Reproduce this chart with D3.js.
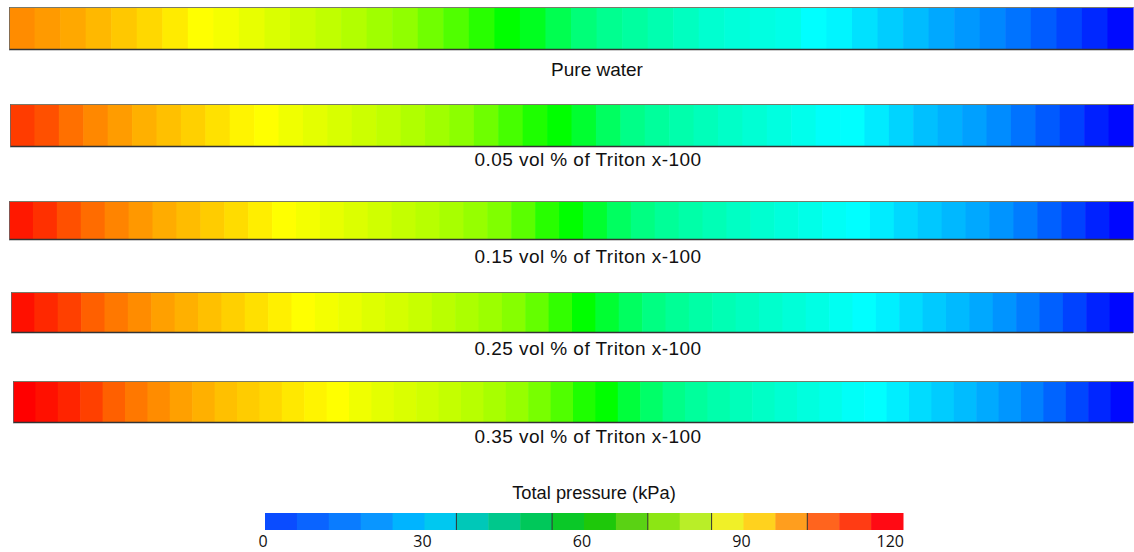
<!DOCTYPE html>
<html>
<head>
<meta charset="utf-8">
<title>Total pressure along the pipe</title>
<script src="https://d3js.org/d3.v7.min.js"></script>
<style>
  body { margin: 0; background: #fff; }
  .case-label { font-family: "Liberation Sans", Arial, sans-serif; font-size: 19px; fill: #111; }
  .case-label.triton { letter-spacing: 0.45px; }
  .legend-title { font-family: "Liberation Sans", Arial, sans-serif; font-size: 18.3px; fill: #111; }
  .legend-tick { font-family: "Open Sans", sans-serif; font-size: 16px; fill: #111; }
</style>
</head>
<body>
<svg id="chart" width="1134" height="552"></svg>
<script>
// case names, one bar each
var cases = ["Pure water", "0.05 vol % of Triton x-100", "0.15 vol % of Triton x-100",
             "0.25 vol % of Triton x-100", "0.35 vol % of Triton x-100"];

// total pressure (kPa) of every cell, left to right
var pureWater = [103.5, 101.9, 100.2, 98.4, 96.5, 94.6, 92.4, 90.0, 88.8, 87.3, 85.6, 84.1, 82.6, 80.9, 78.8,
  76.9, 73.2, 69.4, 64.7, 60.0, 56.2, 50.6, 45.9, 43.1, 41.2, 39.3, 37.4, 35.5, 34.4, 33.5, 32.7, 30.0,
  28.8, 26.5, 24.1, 22.1, 19.8, 17.9, 15.9, 13.5, 10.8, 8.0, 4.7, 1.2];
var triton005 = [113.0, 110.6, 106.8, 104.0, 101.6, 99.3, 97.4, 95.5, 93.5, 91.3, 90.0, 88.2, 86.8, 85.4, 84.0,
  82.6, 80.7, 78.8, 76.5, 72.9, 68.2, 63.5, 60.0, 54.4, 48.7, 44.0, 41.6, 39.8, 38.1, 36.5, 35.1, 33.6,
  32.2, 30.6, 30.0, 27.6, 24.9, 22.6, 20.7, 18.8, 16.5, 13.5, 10.6, 7.5, 3.8, 0.9];
var triton015 = [117.2, 114.4, 110.6, 107.3, 104.5, 102.1, 99.8, 97.9, 96.0, 94.1, 92.0, 90.0, 88.7, 87.3, 85.9,
  84.5, 83.1, 81.6, 79.8, 77.6, 75.1, 70.6, 64.7, 60.0, 54.4, 48.7, 44.7, 42.1, 40.2, 38.6, 36.9, 35.5,
  34.1, 32.7, 31.1, 30.0, 27.8, 25.4, 23.5, 21.6, 19.8, 17.4, 14.6, 11.3, 7.8, 4.0, 0.7];
var triton025 = [118.1, 115.3, 112.5, 108.7, 105.9, 103.5, 101.2, 99.3, 97.4, 95.5, 93.6, 91.8, 90.0, 88.7, 87.5,
  86.1, 84.9, 83.5, 81.9, 80.2, 78.4, 75.8, 71.8, 65.9, 60.0, 54.1, 48.7, 44.7, 42.4, 40.5, 38.8, 37.4,
  36.0, 34.6, 33.2, 31.5, 30.0, 28.2, 25.9, 23.8, 21.9, 19.8, 17.4, 14.6, 11.3, 7.8, 4.0, 0.7];
var triton035 = [120.0, 118.1, 115.8, 112.5, 108.7, 105.9, 103.5, 101.2, 99.3, 97.4, 96.0, 94.6, 92.7, 91.3, 90.0,
  88.2, 86.8, 85.6, 84.5, 83.1, 81.6, 79.8, 77.6, 74.1, 69.4, 63.5, 60.0, 52.9, 47.8, 44.0, 41.6, 39.8,
  38.1, 36.7, 35.3, 33.9, 32.5, 30.8, 30.0, 28.0, 25.9, 24.0, 22.1, 20.0, 17.6, 15.1, 11.8, 8.2, 4.5, 0.9];

// legend: 20 bands of 6 kPa
var legendColors = ["#0a4cff", "#0a64ff", "#0a7cff", "#0a96ff", "#00b4ff", "#00c8f0", "#00c8b8", "#00c88c",
  "#00c85a", "#0ac828", "#1ec80a", "#5ad214", "#8ce614", "#b9ee28", "#f0f028", "#ffd21e", "#ff9e1e",
  "#ff641e", "#ff3c14", "#ff0a14"];
var legendSeparators = [36, 54, 72, 84, 102];
var legendTicks = [0, 30, 60, 90, 120];

var series = [pureWater, triton005, triton015, triton025, triton035];

// layout
var rowTop = [7, 104, 201, 292, 381];
var rowHeight = [43, 43, 39, 41, 42];
var rowLeft = [9, 10, 9, 11, 13];
var rowRight = 1133;
var labelY = [76, 166, 263, 355, 443];

var svg = d3.select("#chart");

var color = d3.scaleLinear()
  .domain([0, 30, 60, 90, 120])
  .range(["#0000ff", "#00ffff", "#00ff00", "#ffff00", "#ff0000"])
  .interpolate(d3.interpolateRgb)
  .clamp(true);

series.forEach(function(vals, r) {
  var x = d3.scaleBand()
    .domain(d3.range(vals.length))
    .range([rowLeft[r], rowRight]);

  var g = svg.append("g").attr("class", "row");

  g.selectAll("rect.cell")
    .data(vals)
    .enter().append("rect")
    .attr("class", "cell")
    .attr("x", function(d, i) { return x(i); })
    .attr("y", rowTop[r])
    .attr("width", x.bandwidth() + 0.6)
    .attr("height", rowHeight[r])
    .attr("fill", function(d) { return color(d); });

  g.append("line")
    .attr("x1", rowLeft[r]).attr("x2", rowRight)
    .attr("y1", rowTop[r] + 0.5).attr("y2", rowTop[r] + 0.5)
    .attr("stroke", "#7a7a6a").attr("stroke-width", 1.2);
  g.append("line")
    .attr("x1", rowLeft[r]).attr("x2", rowRight)
    .attr("y1", rowTop[r] + rowHeight[r] - 0.5).attr("y2", rowTop[r] + rowHeight[r] - 0.5)
    .attr("stroke", "#333").attr("stroke-width", 1.4);
  g.append("line")
    .attr("x1", rowLeft[r] + 0.5).attr("x2", rowLeft[r] + 0.5)
    .attr("y1", rowTop[r]).attr("y2", rowTop[r] + rowHeight[r])
    .attr("stroke", "#666").attr("stroke-width", 0.8);

  svg.append("text")
    .attr("class", r === 0 ? "case-label" : "case-label triton")
    .attr("x", r === 0 ? 597 : 588)
    .attr("y", labelY[r])
    .attr("text-anchor", "middle")
    .text(cases[r]);
});

// colour legend
var lx = d3.scaleLinear().domain([0, 120]).range([265, 903]);
var legTop = 513, legH = 17;

svg.append("text")
  .attr("class", "legend-title")
  .attr("x", 594)
  .attr("y", 499)
  .attr("text-anchor", "middle")
  .text("Total pressure (kPa)");

svg.selectAll("rect.band")
  .data(legendColors)
  .enter().append("rect")
  .attr("class", "band")
  .attr("x", function(d, i) { return lx(i * 6); })
  .attr("y", legTop)
  .attr("width", function(d, i) { return lx((i + 1) * 6) - lx(i * 6) + 0.5; })
  .attr("height", legH)
  .attr("fill", function(d) { return d; });

svg.selectAll("line.sep")
  .data(legendSeparators)
  .enter().append("line")
  .attr("class", "sep")
  .attr("x1", function(d) { return lx(d); })
  .attr("x2", function(d) { return lx(d); })
  .attr("y1", legTop).attr("y2", legTop + legH)
  .attr("stroke", "#333").attr("stroke-width", 1);

svg.selectAll("text.legend-tick")
  .data(legendTicks)
  .enter().append("text")
  .attr("class", "legend-tick")
  .attr("x", function(d, i) { return i === legendTicks.length - 1 ? lx(d) + 1 : lx(d) - 2; })
  .attr("y", 547)
  .attr("text-anchor", function(d, i) { return i === legendTicks.length - 1 ? "end" : "middle"; })
  .text(function(d) { return d; });
</script>
</body>
</html>
